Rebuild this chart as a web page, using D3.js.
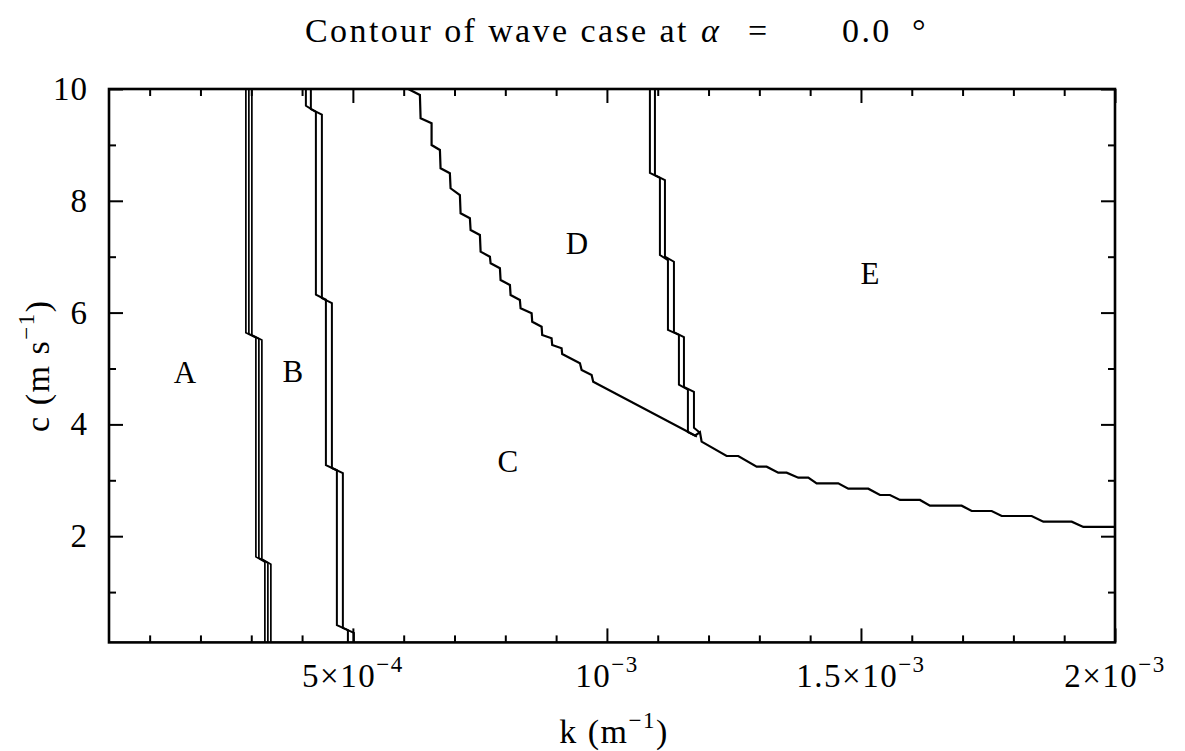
<!DOCTYPE html>
<html>
<head>
<meta charset="utf-8">
<script src="https://cdn.jsdelivr.net/npm/d3@7"></script>
<style>
  html, body { margin: 0; padding: 0; background: #fff; }
  svg { display: block; }
  text { font-family: "Liberation Serif", "DejaVu Serif", serif; fill: #000; }
</style>
</head>
<body>
<svg id="chart" width="1185" height="751"></svg>
<script>
// Axis ranges (k in m^-1, c in m/s)
const kDomain = [2e-5, 2e-3];
const cDomain = [0.1, 10];

// Tick values
const kMajorTicks = [5e-4, 1e-3, 1.5e-3, 2e-3];
const kMinorTicks = [1e-4, 2e-4, 3e-4, 4e-4, 6e-4, 7e-4, 8e-4, 9e-4,
                     1.1e-3, 1.2e-3, 1.3e-3, 1.4e-3, 1.6e-3, 1.7e-3, 1.8e-3, 1.9e-3];
const kTickLabels = [["5\u00d710", "\u22124"], ["10", "\u22123"], ["1.5\u00d710", "\u22123"], ["2\u00d710", "\u22123"]];
const cMajorTicks = [2, 4, 6, 8, 10];
const cMinorTicks = [1, 3, 5, 7, 9];
const cTickLabels = ["2", "4", "6", "8", "10"];

// Boundary between regions A and B (three close contour lines), [k, c]
const abLine1 = [[2.894e-4, 10], [2.894e-4, 5.64], [3.091e-4, 5.55], [3.091e-4, 1.63], [3.268e-4, 1.54], [3.268e-4, 0.1]];
const abLine2 = [[2.953e-4, 10], [2.953e-4, 5.62], [3.150e-4, 5.53], [3.150e-4, 1.61], [3.327e-4, 1.52], [3.327e-4, 0.1]];
const abLine3 = [[3.012e-4, 10], [3.012e-4, 5.60], [3.209e-4, 5.51], [3.209e-4, 1.59], [3.386e-4, 1.50], [3.386e-4, 0.1]];

// Boundary between regions B and C (double contour line)
const bcLine1 = [[4.075e-4, 10], [4.075e-4, 9.70], [4.272e-4, 9.59], [4.272e-4, 6.32], [4.469e-4, 6.23],
                 [4.469e-4, 3.27], [4.685e-4, 3.18], [4.685e-4, 0.41], [4.902e-4, 0.32], [4.902e-4, 0.1]];
const bcLine2 = [[4.173e-4, 10], [4.173e-4, 9.64], [4.390e-4, 9.54], [4.390e-4, 6.26], [4.587e-4, 6.17],
                 [4.587e-4, 3.22], [4.803e-4, 3.13], [4.803e-4, 0.36], [5.020e-4, 0.27], [5.020e-4, 0.1]];

// Boundary between regions D and E (double contour line)
const deLine1 = [[10.846e-4, 10], [10.846e-4, 8.50], [11.043e-4, 8.41], [11.043e-4, 7.03], [11.201e-4, 6.94],
                 [11.201e-4, 5.69], [11.417e-4, 5.60], [11.417e-4, 4.71], [11.594e-4, 4.62], [11.594e-4, 3.86],
                 [11.772e-4, 3.78]];
const deLine2 = [[10.945e-4, 10], [10.945e-4, 8.46], [11.142e-4, 8.37], [11.142e-4, 7.00], [11.319e-4, 6.91],
                 [11.319e-4, 5.65], [11.516e-4, 5.56], [11.516e-4, 4.67], [11.713e-4, 4.58], [11.713e-4, 3.94],
                 [11.831e-4, 3.85]];

// Lower boundary of regions D and E (single stepped contour)
const cdeCurve = [
  [6.089e-4, 10.0], [6.319e-4, 9.893], [6.333e-4, 9.476], [6.549e-4, 9.386], [6.549e-4, 8.998],
  [6.713e-4, 8.909], [6.726e-4, 8.581], [6.909e-4, 8.492], [6.923e-4, 8.224], [7.106e-4, 8.104],
  [7.120e-4, 7.776], [7.303e-4, 7.687], [7.317e-4, 7.478], [7.500e-4, 7.388], [7.514e-4, 7.090],
  [7.697e-4, 7.000], [7.711e-4, 6.882], [7.894e-4, 6.793], [7.907e-4, 6.583], [8.091e-4, 6.494],
  [8.104e-4, 6.315], [8.287e-4, 6.225], [8.301e-4, 6.077], [8.518e-4, 5.987], [8.530e-4, 5.837],
  [8.715e-4, 5.748], [8.726e-4, 5.599], [8.911e-4, 5.540], [8.923e-4, 5.420], [9.108e-4, 5.361],
  [9.120e-4, 5.259], [9.469e-4, 5.093], [9.502e-4, 4.973], [9.699e-4, 4.884], [9.730e-4, 4.764],
  [11.732e-4, 3.800], [11.831e-4, 3.860], [11.864e-4, 3.691], [12.356e-4, 3.435], [12.585e-4, 3.435],
  [12.947e-4, 3.243], [13.144e-4, 3.243], [13.372e-4, 3.136], [13.537e-4, 3.136], [13.766e-4, 3.047],
  [13.963e-4, 3.047], [14.128e-4, 2.946], [14.553e-4, 2.946], [14.750e-4, 2.850], [15.144e-4, 2.850],
  [15.374e-4, 2.737], [15.571e-4, 2.737], [15.768e-4, 2.648], [16.161e-4, 2.648], [16.358e-4, 2.546],
  [16.982e-4, 2.546], [17.179e-4, 2.451], [17.573e-4, 2.451], [17.770e-4, 2.361], [18.360e-4, 2.361],
  [18.589e-4, 2.259], [19.148e-4, 2.259], [19.376e-4, 2.165], [20.000e-4, 2.165]
];

// Region labels and where they sit, [label, k, c]
const regionLabels = [["A", 1.693e-4, 4.92], ["B", 3.819e-4, 4.94], ["C", 8.051e-4, 3.345],
                      ["D", 9.409e-4, 7.245], ["E", 15.177e-4, 6.70]];

const svg = d3.select("#chart");
const margin = { left: 109, right: 70, top: 89, bottom: 108.6 };
const W = 1185, H = 751;
const plotW = W - margin.left - margin.right;
const plotH = H - margin.top - margin.bottom;

const x = d3.scaleLinear().domain(kDomain).range([0, plotW]);
const y = d3.scaleLinear().domain(cDomain).range([plotH, 0]);

const g = svg.append("g").attr("transform", `translate(${margin.left},${margin.top})`);

// Inward ticks on all four sides
function styleAxis(sel) {
  sel.select(".domain").remove();
  sel.selectAll(".tick line").attr("stroke", "#000").attr("stroke-width", 2);
}
const fmtNone = () => "";
g.append("g").attr("transform", `translate(0,${plotH})`)
  .call(d3.axisBottom(x).tickValues(kMajorTicks).tickSize(-14).tickFormat(fmtNone)).call(styleAxis);
g.append("g").attr("transform", `translate(0,${plotH})`)
  .call(d3.axisBottom(x).tickValues(kMinorTicks).tickSize(-7).tickFormat(fmtNone)).call(styleAxis);
g.append("g")
  .call(d3.axisTop(x).tickValues(kMajorTicks).tickSize(-14).tickFormat(fmtNone)).call(styleAxis);
g.append("g")
  .call(d3.axisTop(x).tickValues(kMinorTicks).tickSize(-7).tickFormat(fmtNone)).call(styleAxis);
g.append("g")
  .call(d3.axisLeft(y).tickValues(cMajorTicks).tickSize(-14).tickFormat(fmtNone)).call(styleAxis);
g.append("g")
  .call(d3.axisLeft(y).tickValues(cMinorTicks).tickSize(-7).tickFormat(fmtNone)).call(styleAxis);
g.append("g").attr("transform", `translate(${plotW},0)`)
  .call(d3.axisRight(y).tickValues(cMajorTicks).tickSize(-14).tickFormat(fmtNone)).call(styleAxis);
g.append("g").attr("transform", `translate(${plotW},0)`)
  .call(d3.axisRight(y).tickValues(cMinorTicks).tickSize(-7).tickFormat(fmtNone)).call(styleAxis);

// Frame
g.append("rect").attr("x", 0).attr("y", 0).attr("width", plotW).attr("height", plotH)
  .attr("fill", "none").attr("stroke", "#000").attr("stroke-width", 2.6);

// Contour lines
const line = d3.line().x(d => x(d[0])).y(d => y(d[1]));
const contours = g.append("g").attr("fill", "none").attr("stroke", "#000")
  .attr("stroke-linejoin", "miter").attr("stroke-linecap", "butt");
[abLine1, abLine2, abLine3].forEach(d =>
  contours.append("path").attr("d", line(d)).attr("stroke-width", 1.7));
[bcLine1, bcLine2, deLine1, deLine2].forEach(d =>
  contours.append("path").attr("d", line(d)).attr("stroke-width", 2));
contours.append("path").attr("d", line(cdeCurve)).attr("stroke-width", 2.2);

// Region letters
g.selectAll("text.region").data(regionLabels).join("text")
  .attr("class", "region")
  .attr("x", d => x(d[1])).attr("y", d => y(d[2]))
  .attr("text-anchor", "middle").attr("dominant-baseline", "central")
  .attr("font-size", 31).text(d => d[0]);

// x tick labels with superscript exponents
kMajorTicks.forEach((v, i) => {
  const t = g.append("text").attr("x", x(v)).attr("y", plotH + 45)
    .attr("text-anchor", "middle").attr("font-size", 33).attr("letter-spacing", 1.5);
  t.append("tspan").text(kTickLabels[i][0]);
  t.append("tspan").attr("dy", -15).attr("font-size", 23).text(kTickLabels[i][1]);
});

// y tick labels
cMajorTicks.forEach((v, i) => {
  g.append("text").attr("x", -21).attr("y", y(v))
    .attr("text-anchor", "end").attr("dominant-baseline", "central")
    .attr("font-size", 33).attr("letter-spacing", 1).text(cTickLabels[i]);
});

// Axis titles
const xt = svg.append("text").attr("x", margin.left + plotW / 2 + 2).attr("y", 743)
  .attr("text-anchor", "middle").attr("font-size", 34).attr("letter-spacing", 1.5);
xt.append("tspan").text("k (m");
xt.append("tspan").attr("dy", -15).attr("font-size", 23).text("\u22121");
xt.append("tspan").attr("dy", 15).text(")");

const yt = svg.append("text")
  .attr("transform", `translate(49,${margin.top + plotH / 2}) rotate(-90)`)
  .attr("text-anchor", "middle").attr("font-size", 34).attr("letter-spacing", 1.5);
yt.append("tspan").text("c (m s");
yt.append("tspan").attr("dy", -15).attr("font-size", 23).text("\u22121");
yt.append("tspan").attr("dy", 15).text(")");

// Title
const title = svg.append("text").attr("y", 42).attr("font-size", 34).attr("letter-spacing", 2.4);
title.append("tspan").attr("x", 305).text("Contour of wave case at");
title.append("tspan").attr("x", 701).attr("font-style", "italic").text("\u03b1");
title.append("tspan").attr("x", 748).text("=");
title.append("tspan").attr("x", 842).text("0.0");
title.append("tspan").attr("x", 912).text("\u00b0");
</script>
</body>
</html>
